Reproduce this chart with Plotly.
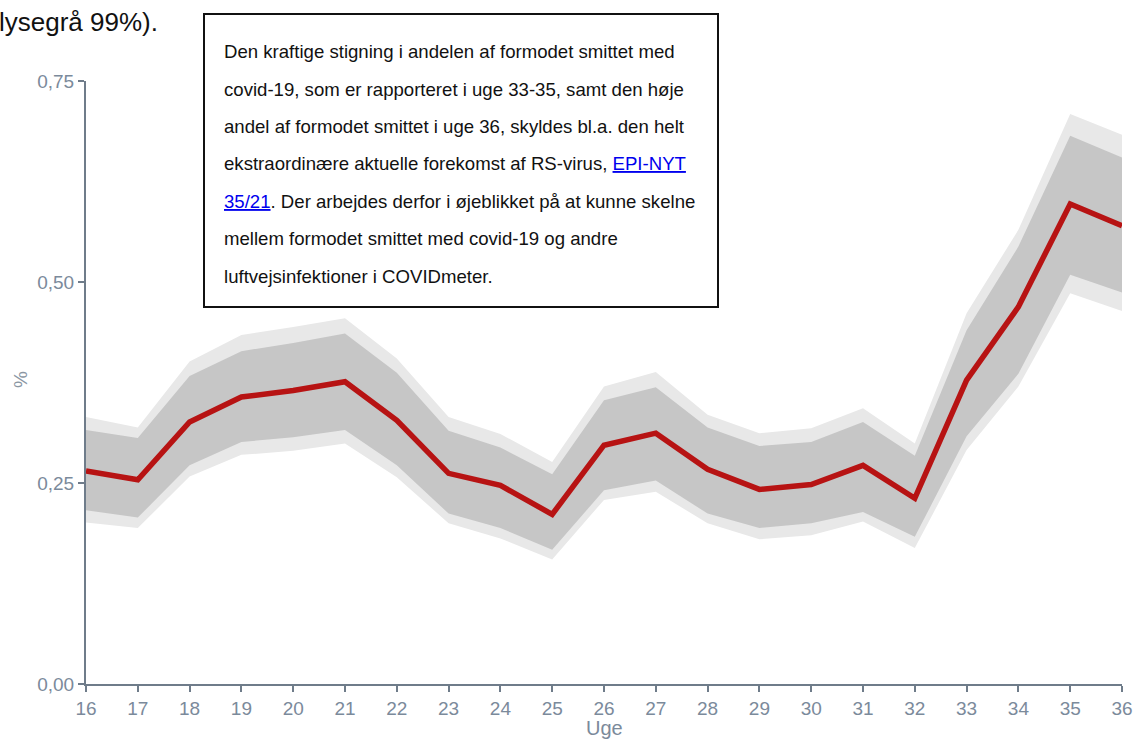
import plotly.graph_objects as go

# ---- data ----
weeks = list(range(16, 37))
estimate = [0.265, 0.254, 0.326, 0.357, 0.365, 0.376, 0.328, 0.262, 0.247, 0.211, 0.297,
            0.312, 0.267, 0.242, 0.248, 0.272, 0.231, 0.378, 0.469, 0.597, 0.570]
ci95_upper = [0.316, 0.306, 0.383, 0.414, 0.424, 0.436, 0.387, 0.315, 0.294, 0.261, 0.353,
              0.369, 0.319, 0.296, 0.301, 0.326, 0.284, 0.440, 0.544, 0.682, 0.655]
ci95_lower = [0.216, 0.207, 0.272, 0.301, 0.307, 0.316, 0.272, 0.212, 0.194, 0.167, 0.241,
              0.253, 0.212, 0.194, 0.200, 0.214, 0.183, 0.308, 0.386, 0.509, 0.487]
ci99_upper = [0.332, 0.319, 0.401, 0.434, 0.444, 0.455, 0.405, 0.332, 0.311, 0.276, 0.370,
              0.388, 0.335, 0.312, 0.318, 0.343, 0.299, 0.461, 0.565, 0.709, 0.683]
ci99_lower = [0.201, 0.194, 0.258, 0.285, 0.290, 0.299, 0.257, 0.200, 0.181, 0.155, 0.229,
              0.239, 0.200, 0.180, 0.185, 0.202, 0.169, 0.291, 0.370, 0.486, 0.464]

y_tickvals = [0, 0.25, 0.5, 0.75]
y_ticktext = ["0,00", "0,25", "0,50", "0,75"]
x_tickvals = weeks
x_ticktext = [str(w) for w in weeks]

title_text = "lysegrå 99%)."
x_title = "Uge"
y_title = "%"
note_lines = [
    "Den kraftige stigning i andelen af formodet smittet med",
    "covid-19, som er rapporteret i uge 33-35, samt den høje",
    "andel af formodet smittet i uge 36, skyldes bl.a. den helt",
    "ekstraordinære aktuelle forekomst af RS-virus, <span style=\"color:#0000ee\"><u>EPI-NYT</u></span>",
    "<span style=\"color:#0000ee\"><u>35/21</u></span>. Der arbejdes derfor i øjeblikket på at kunne skelne",
    "mellem formodet smittet med covid-19 og andre",
    "luftvejsinfektioner i COVIDmeter.",
]

FONT = "Arial, 'Liberation Sans', sans-serif"
AXIS_COL = "#6f7c8a"
TICK_COL = "#7b8a9b"

W, H = 1134, 740
L, R, T, B = 86, 12, 81, 56
PW, PH = W - L - R, H - T - B


def px_x(x):
    return (x - L) / PW


def px_y(y):
    return (H - B - y) / PH


fig = go.Figure()
fig.add_trace(go.Scatter(x=weeks, y=ci99_lower, mode="lines", line=dict(width=0),
                         showlegend=False, hoverinfo="skip"))
fig.add_trace(go.Scatter(x=weeks, y=ci99_upper, mode="lines", line=dict(width=0),
                         fill="tonexty", fillcolor="#e8e8e8", showlegend=False, hoverinfo="skip"))
fig.add_trace(go.Scatter(x=weeks, y=ci95_lower, mode="lines", line=dict(width=0),
                         showlegend=False, hoverinfo="skip"))
fig.add_trace(go.Scatter(x=weeks, y=ci95_upper, mode="lines", line=dict(width=0),
                         fill="tonexty", fillcolor="#c6c6c6", showlegend=False, hoverinfo="skip"))
fig.add_trace(go.Scatter(x=weeks, y=estimate, mode="lines",
                         line=dict(color="#b71313", width=5.5), showlegend=False))

annotations = []
annotations.append(dict(text=title_text, xref="paper", yref="paper",
                        x=px_x(-3), y=px_y(22), xanchor="left", yanchor="middle",
                        showarrow=False, font=dict(family=FONT, size=26, color="#111111")))
annotations.append(dict(text=y_title, xref="paper", yref="paper", textangle=-90,
                        x=px_x(20), y=px_y(380), xanchor="center", yanchor="middle",
                        showarrow=False, font=dict(family=FONT, size=19, color="#8a96a3")))
annotations.append(dict(text=x_title, xref="paper", yref="paper",
                        x=px_x(604), y=px_y(728), xanchor="center", yanchor="middle",
                        showarrow=False, font=dict(family=FONT, size=20, color=TICK_COL)))
for i, line in enumerate(note_lines):
    annotations.append(dict(text=line, xref="paper", yref="paper",
                            x=px_x(222), y=px_y(51.7 + 37.4 * i), xanchor="left", yanchor="middle",
                            showarrow=False, font=dict(family=FONT, size=18.6, color="#111111")))

fig.update_layout(
    width=W, height=H, autosize=False,
    margin=dict(l=L, r=R, t=T, b=B, pad=0, autoexpand=False),
    paper_bgcolor="white", plot_bgcolor="white",
    font=dict(family=FONT, size=19, color=TICK_COL),
    showlegend=False,
    annotations=annotations,
    shapes=[dict(type="rect", xref="paper", yref="paper",
                 x0=px_x(204), x1=px_x(718), y0=px_y(307), y1=px_y(14),
                 line=dict(color="#111111", width=2), fillcolor="white", layer="above")],
    xaxis=dict(range=[16, 36], tickvals=x_tickvals, ticktext=x_ticktext, automargin=False,
               showgrid=False, zeroline=False, showline=True, linecolor=AXIS_COL, linewidth=2,
               ticks="outside", ticklen=6, tickcolor=AXIS_COL, tickwidth=2,
               tickfont=dict(family=FONT, size=19, color=TICK_COL)),
    yaxis=dict(range=[0, 0.75], tickvals=y_tickvals, ticktext=y_ticktext, automargin=False,
               showgrid=False, zeroline=False, showline=True, linecolor=AXIS_COL, linewidth=2,
               ticks="outside", ticklen=6, tickcolor=AXIS_COL, tickwidth=2,
               tickfont=dict(family=FONT, size=19, color=TICK_COL)),
)

fig.write_html("out.html",
               config={"responsive": False, "displayModeBar": False},
               post_script="document.body.style.margin='0px';document.body.style.overflow='hidden';")
